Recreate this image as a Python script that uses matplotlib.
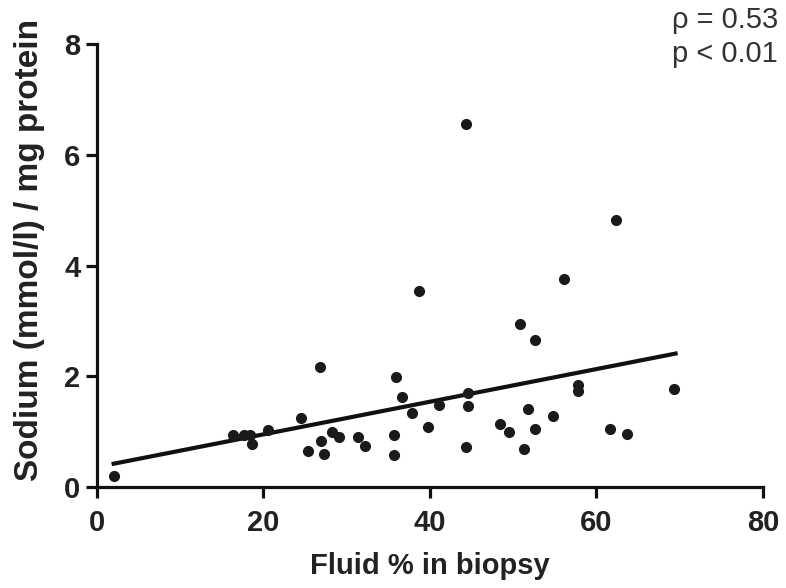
import matplotlib
matplotlib.use('Agg')
import matplotlib.pyplot as plt
import numpy

# data
fluid_pct = [2.0, 16.3, 17.7, 18.4, 18.6, 20.5, 24.5, 25.3, 26.8, 26.9, 27.3,
             28.2, 29.1, 31.4, 32.2, 35.7, 35.7, 35.9, 36.6, 37.8, 38.7, 39.8,
             41.1, 44.3, 44.6, 44.6, 44.3, 48.4, 49.5, 51.8, 51.3, 52.6, 50.8,
             52.6, 54.8, 56.1, 57.8, 57.8, 61.6, 63.7, 69.3, 62.3]
sodium = [0.20, 0.94, 0.94, 0.94, 0.78, 1.03, 1.25, 0.65, 2.17, 0.83, 0.60,
          0.99, 0.90, 0.90, 0.74, 0.94, 0.58, 1.99, 1.62, 1.34, 3.54, 1.08,
          1.48, 6.55, 1.70, 1.46, 0.72, 1.14, 0.99, 1.41, 0.69, 1.05, 2.94,
          2.65, 1.28, 3.75, 1.84, 1.73, 1.05, 0.96, 1.77, 4.82]
fit_x = [2.0, 69.5]
fit_y = [0.42, 2.41]

x_ticks = [0, 20, 40, 60, 80]
y_ticks = [0, 2, 4, 6, 8]
stats_text = '\u03c1 = 0.53\np < 0.01'

plt.rcParams['font.family'] = ['Liberation Sans', 'DejaVu Sans']

fig = plt.figure(figsize=(7.86, 5.88), dpi=100)
ax = fig.add_axes([0.1234, 0.1718, 0.8473, 0.7532])

ax.plot(fluid_pct, sodium, 'o', color='#1a1a1a', markersize=7, zorder=3)
ax.plot(fit_x, fit_y, color='#111111', linewidth=3, zorder=2)

ax.set_xlim(0, 80)
ax.set_ylim(0, 8)
ax.set_xticks(x_ticks)
ax.set_yticks(y_ticks)

for side in ['top', 'right']:
    ax.spines[side].set_visible(False)
for side in ['left', 'bottom']:
    ax.spines[side].set_linewidth(2.3)
    ax.spines[side].set_color('#111111')

ax.tick_params(axis='both', direction='out', length=8, width=2.3, color='#111111',
               labelsize=21)
ax.tick_params(axis='x', pad=8)
ax.tick_params(axis='y', pad=4)
for lbl in ax.get_xticklabels() + ax.get_yticklabels():
    lbl.set_fontweight('bold')
    lbl.set_color('#222222')

ax.set_xlabel('Fluid % in biopsy', fontsize=21, fontweight='bold', color='#222222', labelpad=11)
ax.set_ylabel('Sodium (mmol/l) / mg protein', fontsize=24, fontweight='bold', color='#222222')
ax.yaxis.set_label_coords(-0.078, 0.535)

fig.text(0.855, 0.99, stats_text, ha='left', va='top', fontsize=21,
         color='#333333', linespacing=1.3)

fig.savefig('out.png', dpi=100)
